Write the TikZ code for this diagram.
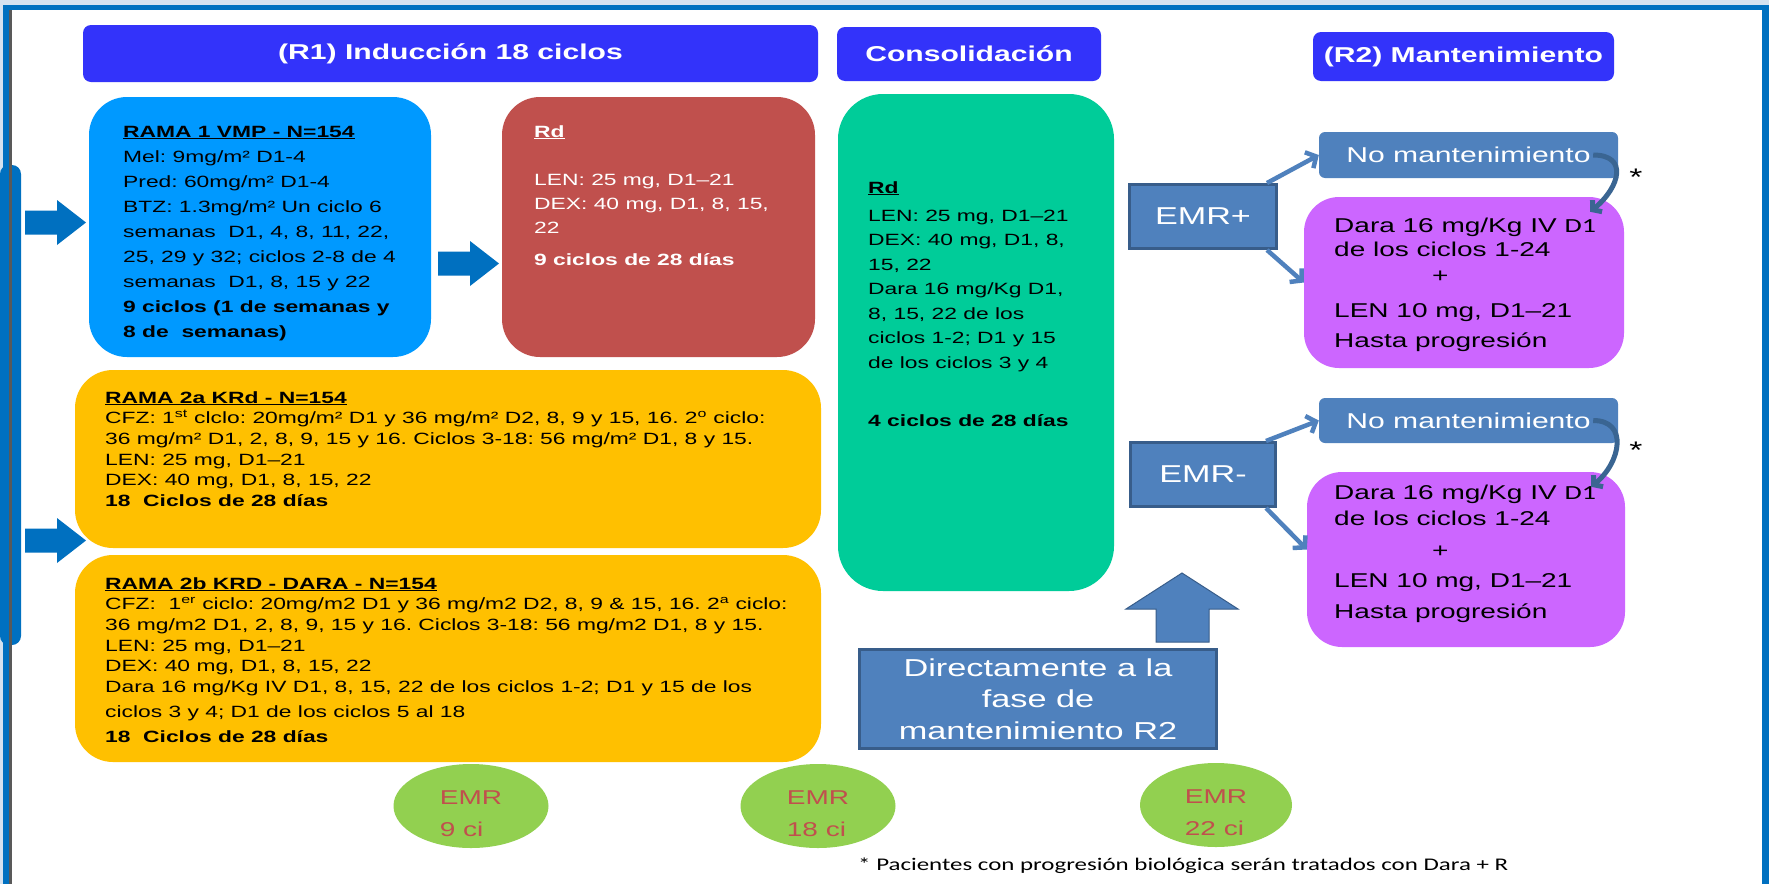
\documentclass[tikz,border=0pt]{standalone}
\usepackage{fontspec}
\setmainfont[FakeStretch=1.4]{Liberation Sans}
\newfontfamily\notefont[FakeStretch=1.4]{Carlito}
\usepackage{tikz}
\usetikzlibrary{arrows.meta}
\usetikzlibrary{shapes.geometric}
\usepackage{xcolor}
\frenchspacing

\definecolor{hdrblue}{RGB}{51,51,250}
\definecolor{ramablue}{RGB}{0,153,255}
\definecolor{rdred}{RGB}{192,80,77}
\definecolor{ramayellow}{RGB}{255,192,0}
\definecolor{consgreen}{RGB}{0,204,153}
\definecolor{mantviolet}{RGB}{204,102,255}
\definecolor{steel}{RGB}{79,129,189}
\definecolor{steeldark}{RGB}{56,93,138}
\definecolor{curvblue}{RGB}{58,101,146}
\definecolor{emrgreen}{RGB}{146,208,80}
\definecolor{frameblue}{RGB}{0,112,192}
\definecolor{framelight}{RGB}{213,226,240}

\tikzset{
	hdr/.style={fill=hdrblue, rounded corners=8pt, inner sep=0pt, text=white,
		font=\bfseries\fontsize{21.5}{26}\selectfont},
	bigbox/.style={rounded corners=38pt, inner sep=0pt},
	% multi-line texts sit on the baseline of their last line
	txt/.style={inner sep=0pt, align=left, anchor=base west},
	emrbox/.style={fill=steel, draw=steeldark, line width=3pt, inner sep=0pt, text=white,
		font=\fontsize{24.4}{28}\selectfont},
	nomant/.style={fill=steel, rounded corners=6pt, inner sep=0pt, text=white,
		font=\fontsize{21.5}{26}\selectfont},
	emr/.style={ellipse, fill=emrgreen, inner sep=0pt},
	emrtxt/.style={text=rdred, align=left, inner sep=0pt, font=\fontsize{20}{32}\selectfont},
	thinarrow/.style={draw=steel, line width=4.5pt, -{Straight Barb[length=8pt,width=18pt]}},
	curvearrow/.style={draw=curvblue, line width=5pt, -{Straight Barb[length=6pt,width=15pt]}},
	ast/.style={inner sep=0pt, anchor=base, font=\fontsize{24}{26}\selectfont}
}

\begin{document}
\begin{tikzpicture}[x=1pt,y=-1pt]
		\useasboundingbox (0,0) rectangle (1769,884);
		% frame
		\fill[framelight] (0,0) rectangle (1769,884);
		\fill[white] (9,10) rectangle (1762,884);
		\fill[frameblue, rounded corners=9pt] (0,165) rectangle (21,645);
		\fill[frameblue] (3,5) rectangle (1769,10);
		\fill[frameblue] (3,5) rectangle (9,884);
		\fill[frameblue] (1762,5) rectangle (1769,884);
		\fill[black!65] (9,10) rectangle (12,884);
		
		% headers
		\node[hdr, minimum width=735pt, minimum height=57pt] (induccion) at (450.5,53.5) {(R1) Inducción 18 ciclos};
		\node[hdr, minimum width=264pt, minimum height=54pt] (consol) at (969,54) {Consolidación};
		\node[hdr, minimum width=301pt, minimum height=49pt] (manten) at (1463.5,56.5) {(R2) Mantenimiento};
		
		% induction arms
		\node[bigbox, fill=ramablue, minimum width=342pt, minimum height=260pt] (ramaone) at (260,227) {};
		\node[bigbox, fill=rdred, minimum width=313pt, minimum height=260pt] (rdbox) at (658.5,227) {};
		\node[bigbox, fill=ramayellow, minimum width=746pt, minimum height=178pt] (ramatwoa) at (448,459) {};
		\node[bigbox, fill=ramayellow, minimum width=746pt, minimum height=207pt] (ramatwob) at (448,658.5) {};
		\node[bigbox, rounded corners=45pt, fill=consgreen, minimum width=276pt, minimum height=497pt] (consbox) at (976,342.5) {};
		
		\node[txt, font=\fontsize{16.3}{25}\selectfont] (ramaonetxt) at (123,337) {\textbf{\underline{RAMA 1 VMP - N=154}}\\
			Mel: 9mg/m² D1-4\\
			Pred: 60mg/m² D1-4\\
			BTZ: 1.3mg/m² Un ciclo 6\\
			semanas\ \ D1, 4, 8, 11, 22,\\
			25, 29 y 32; ciclos 2-8 de 4\\
			semanas\ \ D1, 8, 15 y 22\\
			\textbf{9 ciclos (1 de semanas y}\\
			\textbf{8 de\ \ semanas)}};
		\node[txt, text=white, font=\fontsize{16.3}{24}\selectfont] (rdtxt) at (534,265) {\textbf{\underline{Rd}}\\[24pt]
			LEN: 25 mg, D1–21\\
			DEX: 40 mg, D1, 8, 15,\\
			22\\[8pt]
			\textbf{9 ciclos de 28 días}};
		\node[txt, font=\fontsize{16.3}{20.7}\selectfont] (ramatwoatxt) at (105,506.5) {\textbf{\underline{RAMA 2a KRd - N=154}}\\
			CFZ: 1\textsuperscript{st} clclo: 20mg/m² D1 y 36 mg/m² D2, 8, 9 y 15, 16. 2\textsuperscript{o} ciclo:\\
			36 mg/m² D1, 2, 8, 9, 15 y 16. Ciclos 3-18: 56 mg/m² D1, 8 y 15.\\
			LEN: 25 mg, D1–21\\
			DEX: 40 mg, D1, 8, 15, 22\\
			\textbf{18\ \ Ciclos de 28 días}};
		\node[txt, font=\fontsize{16.3}{20.7}\selectfont] (ramatwobtxt) at (105,742.5) {\textbf{\underline{RAMA 2b KRD - DARA - N=154}}\\
			CFZ:\ \ 1\textsuperscript{er} ciclo: 20mg/m2 D1 y 36 mg/m2 D2, 8, 9 \& 15, 16. 2\textsuperscript{a} ciclo:\\
			36 mg/m2 D1, 2, 8, 9, 15 y 16. Ciclos 3-18: 56 mg/m2 D1, 8 y 15.\\
			LEN: 25 mg, D1–21\\
			DEX: 40 mg, D1, 8, 15, 22\\
			Dara 16 mg/Kg IV D1, 8, 15, 22 de los ciclos 1-2; D1 y 15 de los\\[4.3pt]
			ciclos 3 y 4; D1 de los ciclos 5 al 18\\[4.3pt]
			\textbf{18\ \ Ciclos de 28 días}};
		\node[txt, font=\fontsize{16.3}{24.5}\selectfont] (constxt) at (868,426) {\textbf{\underline{Rd}}\\[3.5pt]
			LEN: 25 mg, D1–21\\
			DEX: 40 mg, D1, 8,\\
			15, 22\\
			Dara 16 mg/Kg D1,\\
			8, 15, 22 de los\\
			ciclos 1-2; D1 y 15\\
			de los ciclos 3 y 4\\[33.5pt]
			\textbf{4 ciclos de 28 días}};
		
		% block arrows
		\foreach \ax/\ay in {25/222.5, 25/540.5, 438/263.5}
		\fill[frameblue] (\ax,\ay-12) -- (\ax+32,\ay-12) -- (\ax+32,\ay-22.5) -- (\ax+61,\ay)
			-- (\ax+32,\ay+22.5) -- (\ax+32,\ay+12) -- (\ax,\ay+12) -- cycle;
		
		% maintenance
		\node[emrbox, minimum width=147pt, minimum height=64pt] (emrplus) at (1203,216.5) {EMR+};
		\node[emrbox, minimum width=145pt, minimum height=64pt] (emrminus) at (1203,474.5) {EMR-};
		\node[nomant, minimum width=299pt, minimum height=46pt] (nomantone) at (1468.5,155) {No mantenimiento};
		\node[nomant, minimum width=299pt, minimum height=45pt] (nomanttwo) at (1468.5,420.5) {No mantenimiento};
		\node[bigbox, rounded corners=35pt, fill=mantviolet, minimum width=320pt, minimum height=171pt] (purpone) at (1464,282.5) {};
		\node[bigbox, rounded corners=35pt, fill=mantviolet, minimum width=318pt, minimum height=175pt] (purptwo) at (1466,559.5) {};
		\node[txt, font=\fontsize{20}{24}\selectfont] (purponetxt) at (1334,347) {Dara 16 mg/Kg IV {\notefont D1}\\
			de los ciclos 1-24\\[2pt]
			\hspace*{98pt}+\\[11pt]
			LEN 10 mg, D1–21\\[6pt]
			Hasta progresión};
		\node[txt, font=\fontsize{20}{26}\selectfont] (purptwotxt) at (1334,618) {Dara 16 mg/Kg IV {\notefont D1}\\
			de los ciclos 1-24\\[6pt]
			\hspace*{98pt}+\\[4pt]
			LEN 10 mg, D1–21\\[5pt]
			Hasta progresión};
		
		\draw[thinarrow] ([xshift=-11pt]emrplus.north east) -- (nomantone.west);
		\draw[thinarrow] ([xshift=-11pt]emrplus.south east) -- (purpone.west);
		\draw[thinarrow] ([xshift=-11pt]emrminus.north east) -- (nomanttwo.west);
		\draw[thinarrow] ([xshift=-11pt]emrminus.south east) -- ([yshift=10pt]purptwo.west);
		
		\draw[curvearrow] ([xshift=-25pt]nomantone.east) .. controls +(35,0) and +(30,-25) .. ([xshift=-34pt,yshift=-15pt]purpone.north east);
		\draw[curvearrow] ([xshift=-25pt]nomanttwo.east) .. controls +(35,0) and +(30,-25) .. ([xshift=-34pt,yshift=-15pt]purptwo.north east);
		\node[ast] (astone) at (1636,185) {*};
		\node[ast] (asttwo) at (1636,458) {*};
		
		% direct to R2
		\node[emrbox, align=center, minimum width=357pt, minimum height=99pt, font=\fontsize{24.5}{31.5}\selectfont] (directo) at (1038,699) {Directamente a la\\fase de\\mantenimiento R2};
		\filldraw[fill=steel, draw=steeldark, line width=1pt] (1156,642) -- (1156,609) -- (1126,609) -- (1182,573)
			-- (1238,609) -- (1209,609) -- (1209,642) -- cycle;
		
		% MRD points
		\node[emr, minimum width=155pt, minimum height=84pt] (emrnine) at (471,806) {};
		\node[emr, minimum width=155pt, minimum height=84pt] (emreighteen) at (818,806) {};
		\node[emr, minimum width=152pt, minimum height=84pt] (emrtwentytwo) at (1216,805) {};
		\node[emrtxt] at ([yshift=-8pt]emrnine) {EMR\\9 ci};
		\node[emrtxt] at ([yshift=-8pt]emreighteen) {EMR\\18 ci};
		\node[emrtxt] at ([yshift=-8pt]emrtwentytwo) {EMR\\22 ci};
		
		\node[txt, font=\notefont\fontsize{17.8}{22}\selectfont] (nota) at (858,870) {* Pacientes con progresión biológica serán tratados con Dara + R};
\end{tikzpicture}
\end{document}
